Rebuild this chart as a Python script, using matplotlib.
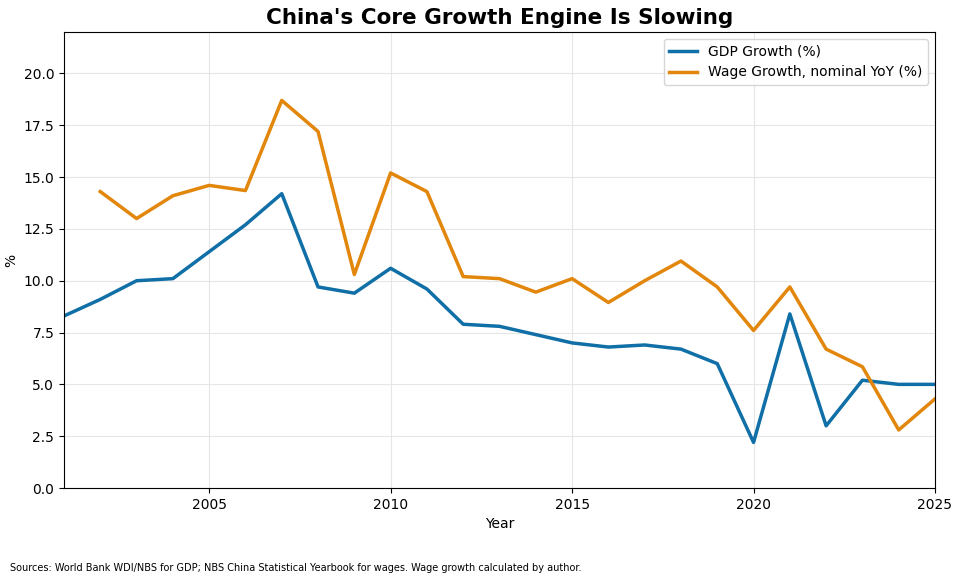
import matplotlib
matplotlib.use("Agg")
import matplotlib.pyplot as plt

years_gdp = list(range(2001, 2026))
gdp_growth = [8.3, 9.1, 10.0, 10.1, 11.4, 12.7, 14.2, 9.7, 9.4, 10.6, 9.6, 7.9, 7.8,
              7.4, 7.0, 6.8, 6.9, 6.7, 6.0, 2.2, 8.4, 3.0, 5.2, 5.0, 5.0]
years_wage = list(range(2002, 2026))
wage_growth = [14.3, 13.0, 14.1, 14.6, 14.35, 18.7, 17.2, 10.3, 15.2, 14.3, 10.2, 10.1,
               9.45, 10.1, 8.95, 10.0, 10.95, 9.7, 7.6, 9.7, 6.7, 5.85, 2.8, 4.3]

fig = plt.figure(figsize=(9.6, 5.82), dpi=100)
ax = fig.add_axes([64/960, 1-488/582, (935-64)/960, (488-32)/582])
ax.plot(years_gdp, gdp_growth, color="#0f6fa6", lw=2.5, label="GDP Growth (%)")
ax.plot(years_wage, wage_growth, color="#e2860c", lw=2.5, label="Wage Growth, nominal YoY (%)")
ax.set_xlim(2001, 2025)
ax.set_ylim(0, 22)
ax.set_xticks([2005, 2010, 2015, 2020, 2025])
ax.set_yticks([0, 2.5, 5, 7.5, 10, 12.5, 15, 17.5, 20])
ax.set_yticklabels([f"{v:.1f}" for v in [0, 2.5, 5, 7.5, 10, 12.5, 15, 17.5, 20]])
ax.grid(True, color="#e6e6e6", lw=0.8)
ax.set_axisbelow(True)
ax.tick_params(labelsize=10)
ax.set_xlabel("Year", fontsize=10)
ax.set_ylabel("%", fontsize=10)
ax.set_title("China's Core Growth Engine Is Slowing", fontsize=15.5, fontweight="bold", pad=6)
ax.legend(loc="upper right", fontsize=10)
fig.text(10/960, 1-568/582, "Sources: World Bank WDI/NBS for GDP; NBS China Statistical Yearbook for wages. Wage growth calculated by author.",
         fontsize=7, va="center", ha="left")
fig.savefig("out.png", dpi=100)
